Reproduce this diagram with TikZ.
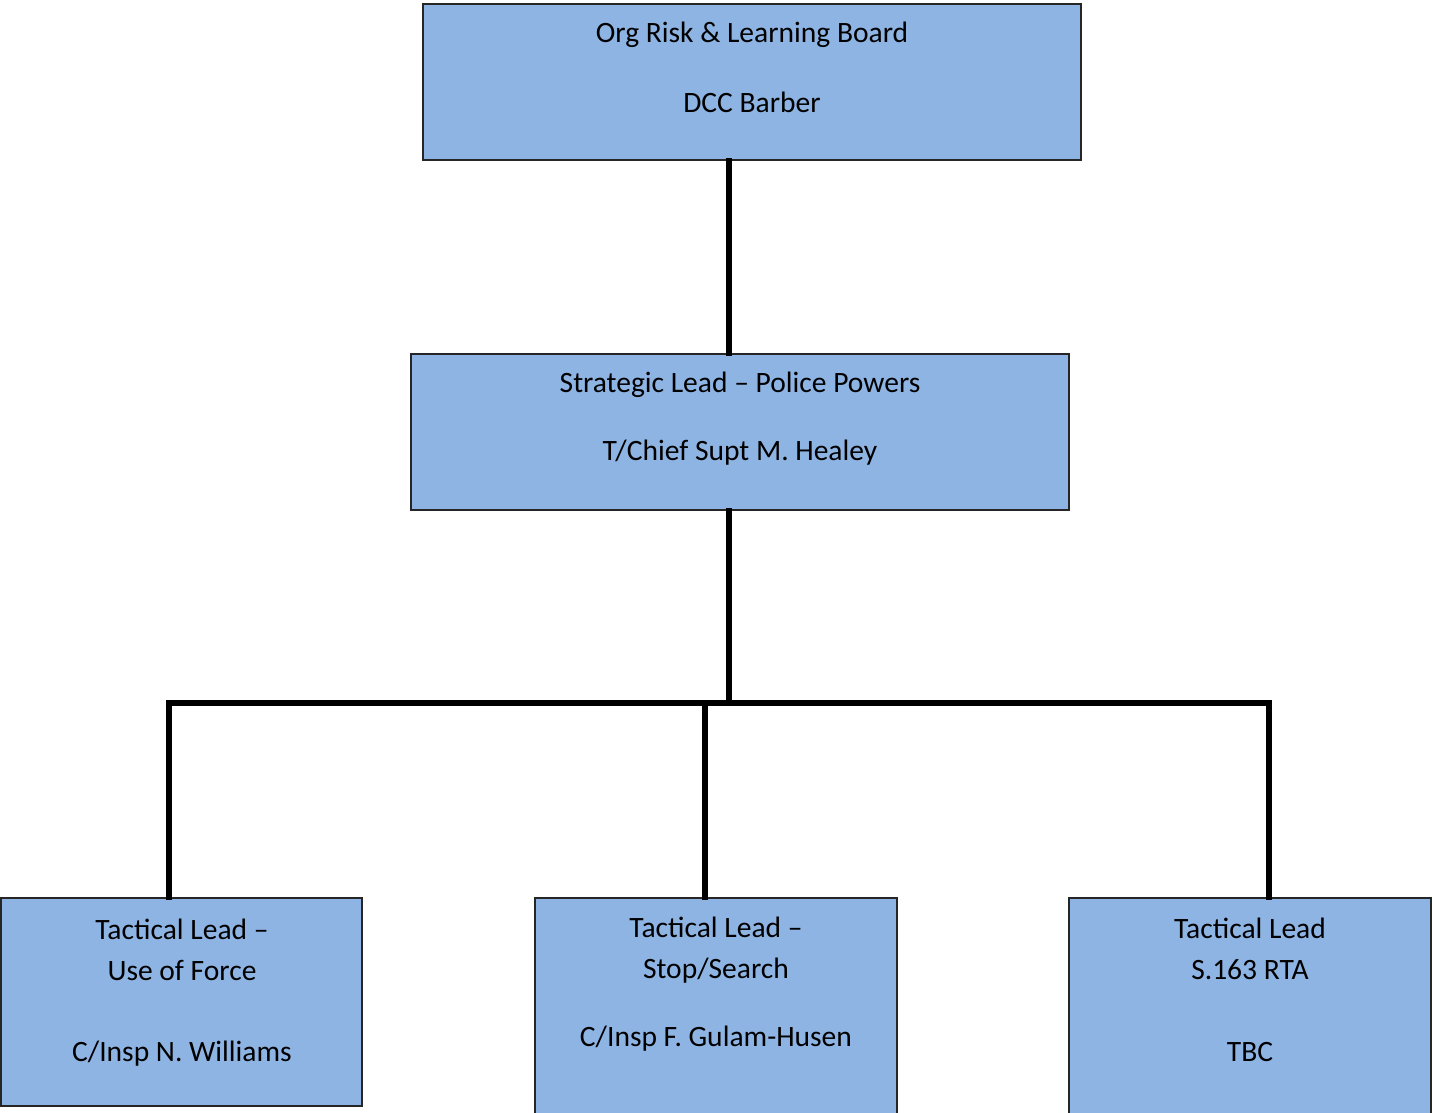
\documentclass[tikz,border=0pt]{standalone}
\usepackage{fontspec}
\setmainfont{Carlito}
\usetikzlibrary{positioning,calc}
\definecolor{boxblue}{RGB}{142,180,227}

\begin{document}
\begin{tikzpicture}[
x=0.0125cm,
y=-0.0125cm,
box/.style={
  draw=black!85,
  line width=0.7pt,
  fill=boxblue,
  rectangle,
  inner sep=0pt
  },
lbl/.style={
  inner sep=0pt,
  align=center,
  font=\fontsize{10.5}{14.5}\selectfont
  },
link/.style={
  line width=1.8pt,
  line cap=rect
  }
]
\useasboundingbox (0,0) rectangle (1432,1112);

% boxes
\node[box, minimum width=8.225cm, minimum height=1.95cm] at (752,82)
  (board) {};
\node[box, minimum width=8.225cm, minimum height=1.95cm] at (740,432)
  (strat) {};
\node[box, minimum width=4.5125cm, minimum height=2.6cm] at (181.5,1002)
  (tac1) {};
\node[box, minimum width=4.5125cm, minimum height=2.775cm] at (716,1009)
  (tac2) {};
\node[box, minimum width=4.5125cm, minimum height=2.775cm] at (1250,1009)
  (tac3) {};

% texts
\node[lbl] at (752,35) (board-a) {Org Risk \& Learning Board};
\node[lbl] at (752,102) (board-b) {DCC Barber};
\node[lbl] at (740,385) (strat-a) {Strategic Lead -- Police Powers};
\node[lbl] at (740,453) (strat-b) {T/Chief Supt M. Healey};
\node[lbl] at (182,950) (tac1-a) {Tactical Lead --\\Use of Force};
\node[lbl] at (182,1054) (tac1-b) {C/Insp N. Williams};
\node[lbl] at (716,950) (tac2-a) {Tactical Lead --\\Stop/Search};
\node[lbl] at (716,1039) (tac2-b) {C/Insp F. Gulam-Husen};
\node[lbl] at (1250,949) (tac3-a) {Tactical Lead\\S.163 RTA};
\node[lbl] at (1250,1052) (tac3-b) {TBC};

% connectors
\coordinate (hub) at (729,703);
\coordinate (drop1) at (169,703);
\coordinate (drop2) at (705,703);
\coordinate (drop3) at (1269,703);

\draw[link] (hub |- board.south) -- (hub |- strat.north);
\draw[link] (hub |- strat.south) -- (hub);
\draw[link] (drop1) -- (drop3);
\foreach \i in {1,...,3}
{
  \draw[link] (drop\i) -- (drop\i |- tac\i.north);
}
\end{tikzpicture}
\end{document}
